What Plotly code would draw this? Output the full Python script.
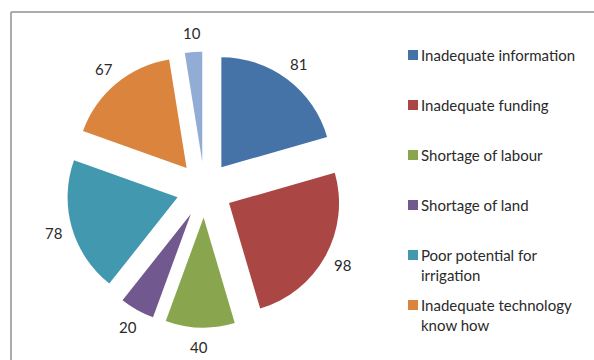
import math
import textwrap
import plotly.graph_objects as go

# Constraints reported by respondents
categories = [
    "Inadequate information",
    "Inadequate funding",
    "Shortage of labour",
    "Shortage of land",
    "Poor potential for irrigation",
    "Inadequate technology know how",
    "Other",
]
counts = [81, 98, 40, 20, 78, 67, 10]
colors = ["#4572A7", "#AA4643", "#89A54E", "#71588F", "#4198AF", "#DB843D", "#93ACD6"]
legend_count = 6  # entries shown in the side legend

W, H = 594, 360
FONT = "Lato, 'Open Sans', sans-serif"
TEXT_COLOR = "#2a2a2a"

# pie geometry in pixels
cx, cy = 204.5, 189.6
outer = 138.0          # radius incl. explosion
pull = 0.2545
label_r = 157.0


def px(x):
    return x / W


def py(y):
    return 1 - y / H


fig = go.Figure()
fig.add_trace(go.Pie(
    labels=categories,
    values=counts,
    marker=dict(colors=colors, line=dict(width=0)),
    pull=[pull] * len(counts),
    sort=False,
    direction="clockwise",
    rotation=0,
    textinfo="none",
    hoverinfo="label+value",
    showlegend=False,
    domain=dict(x=[px(cx - outer), px(cx + outer)],
                y=[py(cy + outer), py(cy - outer)]),
))

# value labels placed along each slice's bisector
total = sum(counts)
acc = 0
annotations = []
for v in counts:
    mid = (acc + v / 2) / total * 2 * math.pi
    acc += v
    lx = cx + label_r * math.sin(mid)
    ly = cy - label_r * math.cos(mid)
    annotations.append(dict(
        x=px(lx), y=py(ly), xref="paper", yref="paper",
        text=str(v), showarrow=False, xanchor="center", yanchor="middle",
        font=dict(family=FONT, size=15, color=TEXT_COLOR),
    ))

# side legend
shapes = []
leg_x, leg_y0, leg_step = 408, 55, 50
for i in range(legend_count):
    yc = leg_y0 + i * leg_step
    shapes.append(dict(
        type="rect", xref="paper", yref="paper",
        x0=px(leg_x), x1=px(leg_x + 10), y0=py(yc + 5), y1=py(yc - 5),
        fillcolor=colors[i], line=dict(width=0),
    ))
    annotations.append(dict(
        x=px(leg_x + 11), y=py(yc - 11), xref="paper", yref="paper",
        text="<br>".join(textwrap.wrap(categories[i], 22)),
        showarrow=False, xanchor="left", yanchor="top", align="left",
        font=dict(family=FONT, size=15, color=TEXT_COLOR),
    ))

# chart frame
for x0, y0, x1, y1 in [(11, 12, W + 5, 12), (11, 12, 11, H + 5)]:
    shapes.append(dict(
        type="line", xref="paper", yref="paper",
        x0=px(x0), y0=py(y0), x1=px(x1), y1=py(y1),
        line=dict(color="#909090", width=1.5),
    ))

fig.update_layout(
    width=W, height=H,
    margin=dict(l=0, r=0, t=0, b=0),
    paper_bgcolor="white", plot_bgcolor="white",
    annotations=annotations, shapes=shapes,
    showlegend=False,
)

fig.write_html("out.html")
